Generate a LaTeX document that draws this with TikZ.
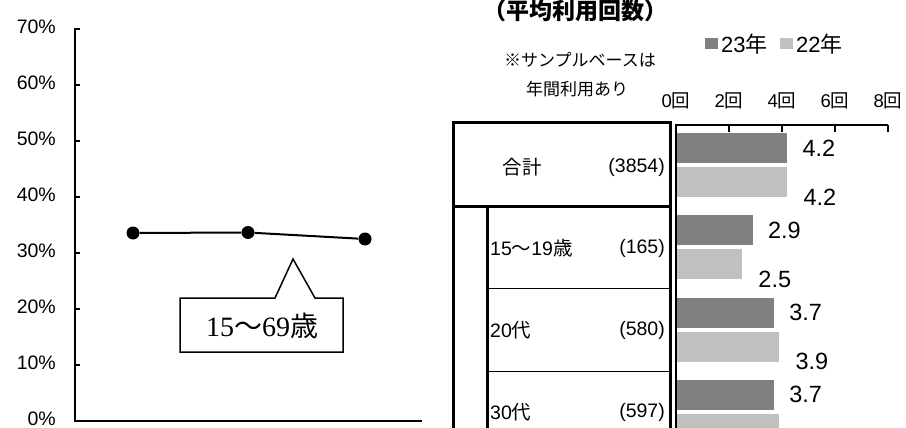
\documentclass[tikz,border=0pt]{standalone}
\usepackage{fontspec}
\setmainfont{Liberation Sans}
\newfontfamily\cjk{Noto Sans CJK JP}
\newfontfamily\tnr{Liberation Serif}
\definecolor{dark}{HTML}{808080}
\definecolor{light}{HTML}{C0C0C0}

\begin{document}
\begin{tikzpicture}[x=1pt,y=-1pt,
        txt/.style={inner sep=0pt,font=\fontsize{17}{17}\selectfont},
        axlab/.style={inner sep=0pt,font=\fontsize{19.5}{19.5}\selectfont},
        row/.style={inner sep=0pt,font=\fontsize{19.5}{19.5}\selectfont},
        val/.style={inner sep=0pt,anchor=west,font=\fontsize{23.5}{23.5}\selectfont},
        dot/.style={circle,fill=black,inner sep=0pt,minimum size=13pt},
        frame/.style={line width=3pt},
        rule/.style={line width=1pt}]
        \clip (0,0) rectangle (906,428);

        \draw[line width=2pt] (75,28) -- (75,421) -- (422,421);
        \foreach \v/\t in {0/0,1/10,2/20,3/30,4/40,5/50,6/60,7/70}
            \node[axlab,anchor=east] (ylab\v) at (56,419-56*\v) {\t\%};
        \foreach \v in {1,...,7}
            \draw[line width=2pt] (75,421-56*\v) -- ++(5,0);
        \node[dot] (p1) at (133,233) {};
        \node[dot] (p2) at (248,232.5) {};
        \node[dot] (p3) at (365,239) {};
        \draw[line width=2pt] (p1) -- (p2) -- (p3);
        \draw[line width=1.5pt,fill=white] (180,298) -- (275,298) -- (293,259) -- (315,298) -- (343,298) -- (343,352) -- (180,352) -- cycle;
        \node[inner sep=0pt,font=\fontsize{28}{28}\selectfont] (age) at (262,326) {\tnr 15{\cjk ～}69{\cjk 歳}};

        \node[inner sep=0pt,font=\fontsize{23}{23}\selectfont\bfseries\cjk] (title) at (575,11) {（平均利用回数）};
        \fill[dark] (705,38) rectangle (718,49);
        \node[inner sep=0pt,anchor=west,font=\fontsize{22}{22}\selectfont] (leg23) at (721,44) {23{\cjk 年}};
        \fill[light] (780,38) rectangle (793,49);
        \node[inner sep=0pt,anchor=west,font=\fontsize{22}{22}\selectfont] (leg22) at (796,44) {22{\cjk 年}};
        \node[txt] (note1) at (580,60) {\cjk ※サンプルベースは};
        \node[txt] (note2) at (577,89) {\cjk 年間利用あり};
        \foreach \n in {0,2,4,6,8}
            \node[txt,font=\fontsize{18.5}{18.5}\selectfont] (xlab\n) at (676+26.5*\n,101) {\n{\cjk 回}};

        \foreach \g/\a/\b in {0/4.2/4.2,1/2.9/2.5,2/3.7/3.9,3/3.7/3.9} {
            \fill[dark] (677,133+82.3*\g) rectangle (676+26.5*\a,163+82.3*\g);
            \fill[light] (677,167+82.3*\g) rectangle (676+26.5*\b,197+82.3*\g);
            \node[val] (now\g) at (676+26.5*\a+15,148+82.3*\g) {\a};
        }
        \foreach \g/\b in {0/4.2,1/2.5,2/3.9}
            \node[val] (prev\g) at (676+26.5*\b+16,197+82.3*\g) {\b};
        \draw[line width=1.5pt] (676,428) -- (676,125) -- (888,125);
        \foreach \n in {2,4,6,8}
            \draw[line width=1.5pt] (676+26.5*\n,125) -- ++(0,7);

        \draw[frame] (453,428) -- (453,123) -- (670,123) -- (670,428);
        \draw[frame] (453,206) -- (670,206);
        \draw[frame] (487,206) -- (487,428);
        \draw[rule] (487,288) -- (670,288);
        \draw[rule] (487,371) -- (670,371);
        \node[row] (total) at (522,167) {\cjk 合計};
        \node[row,anchor=east] (ntotal) at (665,167) {(3854)};
        \node[row,anchor=west] (teen) at (490,248) {15{\cjk ～}19{\cjk 歳}};
        \node[row,anchor=east] (nteen) at (665,248) {(165)};
        \node[row,anchor=west] (twenty) at (490,330) {20{\cjk 代}};
        \node[row,anchor=east] (ntwenty) at (665,330) {(580)};
        \node[row,anchor=west] (thirty) at (490,412) {30{\cjk 代}};
        \node[row,anchor=east] (nthirty) at (665,412) {(597)};
    \end{tikzpicture}
\end{document}
